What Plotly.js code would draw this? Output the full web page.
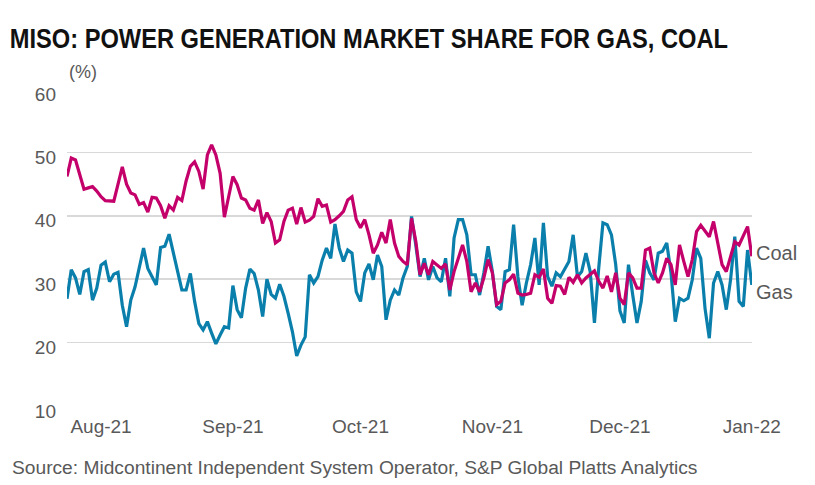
<!DOCTYPE html>
<html>
<head>
<meta charset="utf-8">
<script src="https://cdn.plot.ly/plotly-3.0.1.min.js"></script>
<style>
  html, body { margin: 0; padding: 0; background: #ffffff; }
  #chart { width: 815px; height: 485px; }
  #chart .gtitle {
    transform-box: fill-box;
    transform-origin: 0% 50%;
    transform: scaleX(0.845);
  }
</style>
</head>
<body>
<div id="chart"></div>
<script>
// Daily series, starting 2021-07-24, one value per day (market share, %)
const startDate = '2021-07-24';

const coal = [
  46.2, 49.1, 48.8, 46.5, 44.2, 44.4, 44.6, 43.9, 43.0, 42.4,
  42.4, 42.3, 45.0, 47.7, 45.0, 43.6, 43.3, 41.8, 42.1, 40.6,
  42.9, 42.8, 41.6, 39.6, 41.6, 40.9, 42.9, 42.4, 45.5, 47.8,
  48.5, 47.0, 44.2, 49.6, 51.2, 49.6, 46.7, 39.8, 43.0, 46.2,
  44.9, 42.8, 42.5, 41.2, 40.9, 42.5, 38.8, 40.5, 39.1, 35.7,
  36.2, 39.1, 40.9, 41.2, 38.7, 41.3, 39.0, 39.3, 39.9, 42.7,
  41.5, 41.7, 39.0, 39.4, 40.0, 40.7, 42.5, 43.0, 39.4, 38.1,
  39.4, 37.0, 34.1, 35.4, 37.4, 35.7, 39.4, 35.7, 33.6, 32.8,
  32.3, 39.6, 36.0, 30.7, 32.5, 30.7, 32.8, 32.3, 31.7, 32.4,
  28.3, 31.2, 33.3, 35.4, 32.8, 28.0, 29.4, 28.0, 30.2, 33.1,
  31.0, 26.0, 26.5, 29.4, 29.9, 30.8, 27.8, 27.5, 27.6, 27.8,
  30.7, 30.3, 31.6, 27.0, 26.2, 29.0, 28.9, 27.6, 30.3, 29.5,
  30.7, 29.4, 30.2, 30.8, 31.3, 29.7, 28.6, 30.5, 28.0, 31.0,
  27.0, 26.0, 31.0, 30.2, 28.6, 28.6, 34.6, 34.9, 31.0, 29.4,
  31.0, 33.3, 32.3, 29.1, 35.4, 32.8, 30.4, 33.1, 37.5, 38.5,
  37.5, 36.7, 39.1, 36.0, 32.3, 31.2, 33.8, 35.9, 35.4, 37.0,
  38.3, 33.6
];

const gas = [
  26.9, 31.5, 30.2, 27.6, 31.2, 31.5, 26.7, 28.6, 32.2, 32.7,
  29.6, 30.8, 31.1, 25.9, 22.5, 26.7, 28.8, 32.0, 34.9, 31.7,
  30.4, 29.1, 35.0, 35.2, 37.1, 34.1, 31.2, 28.3, 28.3, 30.9,
  26.5, 23.0, 22.0, 23.3, 21.5, 19.8, 21.2, 22.5, 22.3, 29.0,
  25.2, 23.9, 28.6, 31.6, 30.9, 28.3, 24.1, 30.0, 27.6, 27.0,
  29.2, 27.3, 24.6, 21.7, 17.9, 19.6, 20.9, 30.7, 29.4, 30.4,
  33.0, 34.9, 33.3, 38.7, 34.9, 32.8, 34.6, 34.1, 28.0, 26.5,
  31.0, 32.4, 29.9, 33.8, 32.0, 23.6, 26.7, 28.3, 27.5, 30.2,
  32.0, 39.9, 35.4, 30.4, 33.3, 29.9, 32.0, 30.2, 29.6, 33.3,
  27.3, 36.5, 39.4, 39.4, 37.0, 30.7, 30.7, 27.5, 31.0, 35.2,
  31.2, 25.7, 25.2, 31.2, 31.5, 38.6, 30.4, 25.9, 29.4, 32.3,
  36.5, 29.1, 38.9, 30.4, 28.9, 31.0, 30.4, 31.7, 32.8, 37.0,
  30.4, 31.2, 34.1, 31.2, 23.1, 31.7, 38.9, 38.6, 37.0, 32.3,
  25.0, 23.1, 32.3, 27.5, 23.1, 26.5, 33.0, 31.0, 29.9, 34.1,
  34.4, 35.7, 31.0, 23.3, 27.0, 26.6, 27.0, 29.9, 34.9, 33.3,
  25.4, 20.7, 29.4, 31.2, 29.1, 25.2, 29.9, 36.7, 26.5, 25.7,
  34.6, 29.1
];

const monthTicks = ['2021-08-01', '2021-09-01', '2021-10-01', '2021-11-01', '2021-12-01', '2022-01-01'];
const monthLabels = ['Aug-21', 'Sep-21', 'Oct-21', 'Nov-21', 'Dec-21', 'Jan-22'];
const yTicks = [10, 20, 30, 40, 50, 60];

const seriesNames = ['Coal', 'Gas'];

// build consecutive daily dates
function buildDates(start, n) {
  const out = [];
  const d0 = new Date(start + 'T00:00:00Z');
  for (let i = 0; i < n; i++) {
    const d = new Date(d0.getTime() + i * 86400000);
    out.push(d.toISOString().slice(0, 10));
  }
  return out;
}
const dates = buildDates(startDate, coal.length);

const COAL_COLOR = '#c4006b';
const GAS_COLOR = '#0a7fab';
const TEXT_GRAY = '#595959';
const FONT = '"Liberation Sans", Arial, sans-serif';
const TITLE_FONT = '"Liberation Sans", Arial, sans-serif';

const traces = [
  { x: dates, y: gas, type: 'scatter', mode: 'lines', name: 'Gas',
    line: { color: GAS_COLOR, width: 3.2 }, hoverinfo: 'skip' },
  { x: dates, y: coal, type: 'scatter', mode: 'lines', name: 'Coal',
    line: { color: COAL_COLOR, width: 3.2 }, hoverinfo: 'skip' }
];

const layout = {
  width: 815, height: 485,
  margin: { l: 67, r: 63, t: 89, b: 79 },
  paper_bgcolor: '#ffffff', plot_bgcolor: '#ffffff',
  showlegend: false,
  font: { family: FONT, color: TEXT_GRAY, size: 18 },
  title: {
    text: 'MISO: POWER GENERATION MARKET SHARE FOR GAS, COAL',
    font: { family: TITLE_FONT, size: 28, color: '#111111', weight: 'bold' },
    xref: 'container', yref: 'container',
    x: 0.012, xanchor: 'left', y: 0.922, yanchor: 'middle'
  },
  xaxis: {
    type: 'date',
    range: ['2021-07-24', '2022-01-01 01:00'],
    tickmode: 'array', tickvals: monthTicks, ticktext: monthLabels,
    showgrid: false, zeroline: false, showline: false,
    ticks: '', tickfont: { family: FONT, size: 19, color: TEXT_GRAY },
    ticklabelstandoff: 7
  },
  yaxis: {
    range: [10, 60],
    tickmode: 'array', tickvals: yTicks,
    showgrid: true, gridcolor: '#d9d9d9', gridwidth: 1.5,
    zeroline: false, showline: false, ticks: '',
    tickfont: { family: FONT, size: 19, color: TEXT_GRAY },
    ticklabelstandoff: 10,
    ticklabelshift: 5
  },
  annotations: [
    { text: '(%)', xref: 'paper', yref: 'paper', x: 0.0, y: 1.055,
      xanchor: 'left', yanchor: 'middle', showarrow: false,
      font: { family: FONT, size: 18, color: TEXT_GRAY } },
    { text: seriesNames[0], xref: 'paper', yref: 'paper', x: 1.003, y: 0.483,
      xanchor: 'left', yanchor: 'middle', showarrow: false,
      font: { family: FONT, size: 20, color: TEXT_GRAY } },
    { text: seriesNames[1], xref: 'paper', yref: 'paper', x: 1.003, y: 0.36,
      xanchor: 'left', yanchor: 'middle', showarrow: false,
      font: { family: FONT, size: 20, color: TEXT_GRAY } },
    { text: 'Source: Midcontinent Independent System Operator, S&P Global Platts Analytics',
      xref: 'paper', yref: 'paper', x: -0.0832, y: -0.193,
      xanchor: 'left', yanchor: 'middle', showarrow: false,
      font: { family: FONT, size: 19.2, color: TEXT_GRAY } }
  ]
};

Plotly.newPlot('chart', traces, layout, { displayModeBar: false, staticPlot: true });
</script>
</body>
</html>
